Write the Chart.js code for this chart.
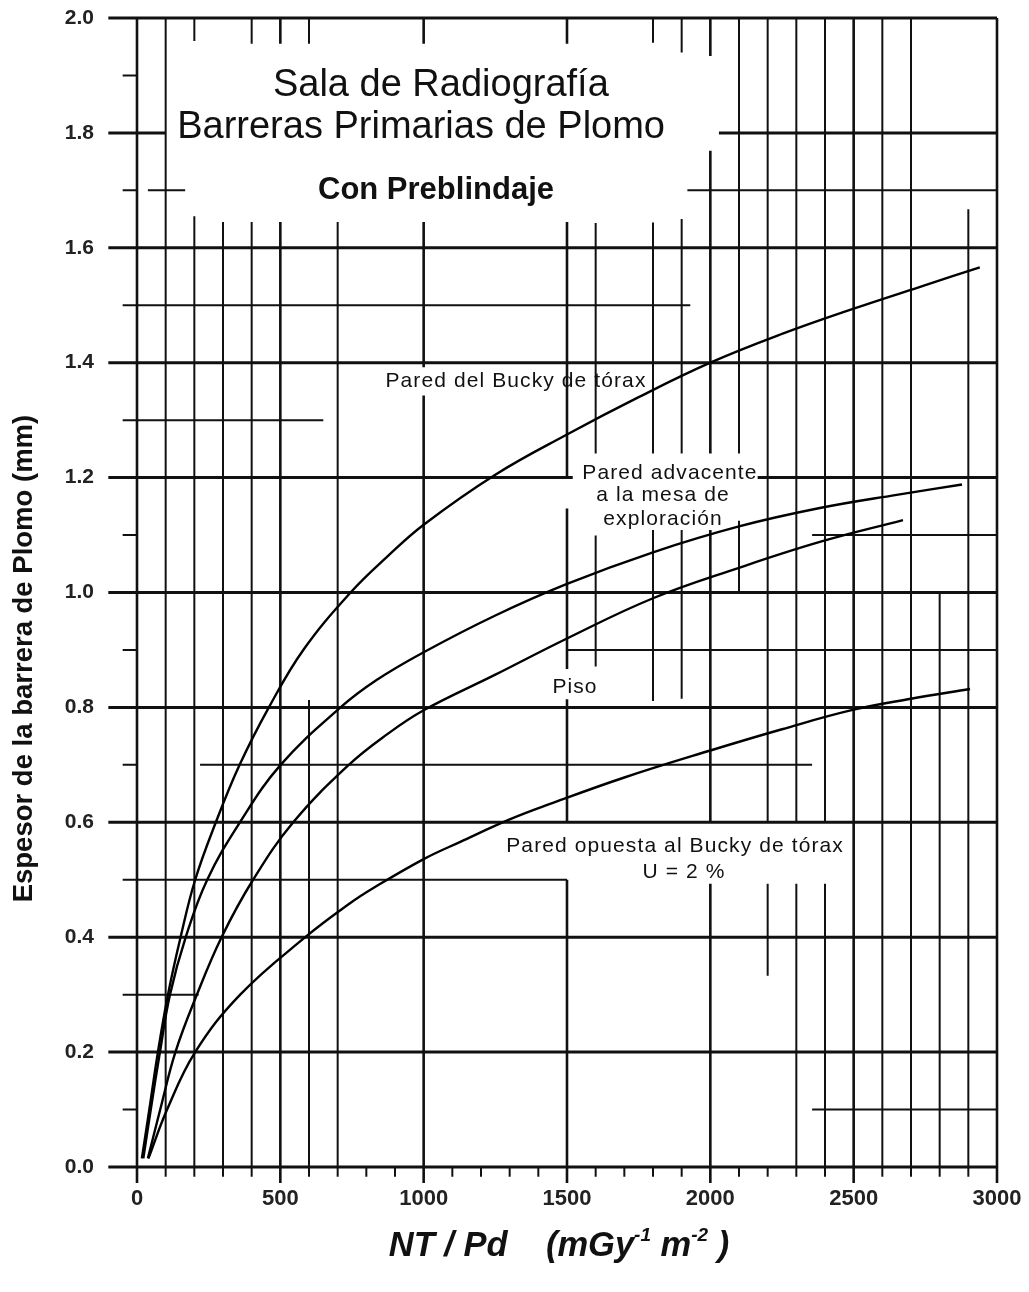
<!DOCTYPE html>
<html>
<head>
<meta charset="utf-8">
<script src="https://cdn.jsdelivr.net/npm/chart.js@4.4.1/dist/chart.umd.min.js"></script>
<style>
  html, body { margin: 0; padding: 0; background: #fff; }
  #marco { width: 1029px; height: 1292px; position: relative; }
</style>
</head>
<body>
<div id="marco"><canvas id="graficoPlomo"></canvas></div>
<script>
//? Datos de las curvas (NT/Pd en mGy^-1 m^-2, espesor en mm).

const buckyX = [17, 43, 73, 108, 152, 203, 275, 358, 460, 580, 745, 872, 1000, 1250, 1500, 1750, 2000, 2250, 2500, 2750, 2940];
const buckyY = [0.015, 0.1, 0.2, 0.3, 0.4, 0.5, 0.6, 0.7, 0.8, 0.9, 1.0, 1.062, 1.118, 1.205, 1.275, 1.34, 1.4, 1.45, 1.494, 1.535, 1.566];

const adyacenteX = [22, 48, 80, 115, 170, 245, 359, 501, 710, 837, 1000, 1250, 1500, 1800, 2100, 2382, 2650, 2878];
const adyacenteY = [0.015, 0.1, 0.2, 0.3, 0.4, 0.5, 0.6, 0.7, 0.8, 0.848, 0.896, 0.96, 1.015, 1.07, 1.115, 1.147, 1.17, 1.188];

const pisoX = [38, 81, 134, 209, 295, 405, 545, 739, 872, 1000, 1250, 1500, 1800, 2100, 2382, 2672];
const pisoY = [0.015, 0.1, 0.2, 0.3, 0.4, 0.5, 0.6, 0.7, 0.753, 0.795, 0.857, 0.92, 0.99, 1.043, 1.088, 1.126];

const opuestaX = [40, 105, 203, 360, 587, 743, 826, 1000, 1128, 1300, 1441, 1700, 2000, 2250, 2500, 2700, 2906];
const opuestaY = [0.015, 0.1, 0.2, 0.3, 0.4, 0.459, 0.486, 0.536, 0.566, 0.605, 0.632, 0.678, 0.725, 0.762, 0.796, 0.815, 0.832];

//? Ejes.

const ticksX = [0, 500, 1000, 1500, 2000, 2500, 3000];
const ticksY = [0, 0.2, 0.4, 0.6, 0.8, 1.0, 1.2, 1.4, 1.6, 1.8, 2.0];

//? Cuadrícula del papel: tramos horizontales [y, x0, x1] y verticales [x, [[y0, y1], ...]].

const horizontalesGruesas = [
  [2.0, -100, 3000], [1.8, -100, 100], [1.8, 2030, 3000], [1.6, -100, 3000],
  [1.4, -100, 3000], [1.2, -100, 1520], [1.2, 2165, 3000], [1.0, -100, 3000],
  [0.8, -100, 3000], [0.6, -100, 3000], [0.4, -100, 3000], [0.2, -100, 3000],
  [0.0, -100, 3000],
];

const horizontalesFinas = [
  [1.9, -50, 0], [1.7, -50, 0], [1.7, 38, 168], [1.7, 1920, 3000],
  [1.5, -50, 1930], [1.3, -50, 650], [1.1, -50, 0], [1.1, 2355, 3000],
  [0.9, -50, 0], [0.9, 1500, 3000], [0.7, -50, 0], [0.7, 220, 2355],
  [0.5, -50, 1500], [0.3, -50, 215], [0.1, -50, 0], [0.1, 2355, 3000],
];

const verticalesGruesas = [
  [0, [[-0.028, 2.0]]],
  [500, [[-0.028, 1.645], [1.955, 2.0]]],
  [1000, [[-0.028, 1.343], [1.392, 1.645], [1.955, 2.0]]],
  [1500, [[-0.028, 0.5], [0.6, 0.814], [0.867, 1.146], [1.2, 1.645], [1.955, 2.0]]],
  [2000, [[-0.028, 0.493], [0.6, 1.109], [1.242, 1.769], [1.934, 2.0]]],
  [2500, [[-0.028, 2.0]]],
  [3000, [[-0.028, 2.0]]],
];

const verticalesFinas = [
  [100, [[-0.017, 2.0]]],
  [200, [[-0.017, 1.655], [1.96, 2.0]]],
  [300, [[-0.017, 1.645]]],
  [400, [[-0.017, 1.645], [1.955, 2.0]]],
  [600, [[-0.017, 0.813], [1.955, 2.0]]],
  [700, [[-0.017, 1.645]]],
  [800, [[-0.017, 0]]],
  [900, [[-0.017, 0]]],
  [1100, [[-0.017, 0]]],
  [1200, [[-0.017, 0]]],
  [1300, [[-0.017, 0]]],
  [1400, [[-0.017, 0]]],
  [1600, [[-0.017, 0], [0.871, 1.099], [1.242, 1.643]]],
  [1700, [[-0.017, 0]]],
  [1800, [[-0.017, 0], [0.811, 1.109], [1.242, 1.644], [1.957, 2.0]]],
  [1900, [[-0.017, 0], [0.815, 1.109], [1.242, 1.65], [1.94, 2.0]]],
  [2100, [[-0.017, 0], [1.0, 1.125], [1.242, 2.0]]],
  [2200, [[-0.017, 0], [0.333, 0.493], [0.6, 2.0]]],
  [2300, [[-0.017, 0.493], [0.6, 2.0]]],
  [2400, [[-0.017, 0.493], [0.6, 2.0]]],
  [2600, [[-0.017, 2.0]]],
  [2700, [[-0.017, 2.0]]],
  [2800, [[-0.017, 1.0]]],
  [2900, [[-0.017, 1.667]]],
];

//? Textos dentro del gráfico (posición en unidades de los ejes).

const titulos = [
  { texto: "Sala de Radiografía", x: 1060, y: 1.882 },
  { texto: "Barreras Primarias de Plomo", x: 991, y: 1.809 },
];
const subtitulo = { texto: "Con Preblindaje", x: 1043, y: 1.70 };

const etiquetas = [
  { texto: "Pared del Bucky de tórax", x: 1322, y: 1.368 },
  { texto: "Pared advacente", x: 1859, y: 1.208 },
  { texto: "a la mesa de", x: 1835, y: 1.170 },
  { texto: "exploración", x: 1835, y: 1.128 },
  { texto: "Piso", x: 1528, y: 0.836 },
  { texto: "Pared opuesta al Bucky de tórax", x: 1877, y: 0.559 },
  { texto: "U = 2 %", x: 1908, y: 0.514 },
];

const tituloEjeY = "Espesor de la barrera de Plomo (mm)";

//? -------------------------------------------------

const FUENTE = "'Liberation Sans', Arial, sans-serif";
const NEGRO = "#111";

const puntos = (xs, ys) => xs.map((x, i) => ({ x, y: ys[i] }));

const tramosH = (lista) =>
  lista.flatMap(([y, x0, x1]) => [{ x: x0, y }, { x: x1, y }, { x: x1, y: null }]);

const tramosV = (lista) =>
  lista.flatMap(([x, tramos]) =>
    tramos.flatMap(([y0, y1]) => [{ x, y: y0 }, { x, y: y1 }, { x, y: null }])
  );

const curva = (label, data) => ({
  label,
  data,
  borderColor: "#000",
  borderWidth: 2.4,
  pointRadius: 0,
  tension: 0.4,
  fill: false,
});

const rejilla = (label, data, ancho) => ({
  label,
  data,
  borderColor: NEGRO,
  borderWidth: ancho,
  borderCapStyle: "butt",
  pointRadius: 0,
  tension: 0,
  spanGaps: false,
  clip: false,
  fill: false,
});

//? Plugin para los textos del gráfico.

const textosPlugin = {
  id: "textosPlomo",
  afterDatasetsDraw(chart) {
    const { ctx, scales, chartArea } = chart;
    const sx = scales.x;
    const sy = scales.y;
    ctx.save();
    ctx.fillStyle = "#111";
    ctx.textAlign = "center";
    ctx.textBaseline = "middle";

    ctx.font = "38px " + FUENTE;
    titulos.forEach((t) => ctx.fillText(t.texto, sx.getPixelForValue(t.x), sy.getPixelForValue(t.y)));

    ctx.font = "bold 31px " + FUENTE;
    ctx.fillText(subtitulo.texto, sx.getPixelForValue(subtitulo.x), sy.getPixelForValue(subtitulo.y));

    ctx.font = "21px " + FUENTE;
    ctx.letterSpacing = "1.1px";
    etiquetas.forEach((t) => ctx.fillText(t.texto, sx.getPixelForValue(t.x), sy.getPixelForValue(t.y)));
    ctx.letterSpacing = "0px";

    // Título del eje Y (vertical).
    ctx.save();
    ctx.translate(24, sy.getPixelForValue(0.885));
    ctx.rotate(-Math.PI / 2);
    ctx.font = "bold 27.5px " + FUENTE;
    ctx.fillText(tituloEjeY, 0, 0);
    ctx.restore();

    // Título del eje X con exponentes.
    const partes = [
      { t: "NT / Pd", sup: false },
      { t: "    (mGy", sup: false },
      { t: "-1", sup: true },
      { t: " m", sup: false },
      { t: "-2", sup: true },
      { t: " )", sup: false },
    ];
    const fNormal = "italic bold 34.5px " + FUENTE;
    const fSup = "italic bold 19px " + FUENTE;
    let total = 0;
    partes.forEach((p) => {
      ctx.font = p.sup ? fSup : fNormal;
      p.w = ctx.measureText(p.t).width;
      total += p.w;
    });
    let xPos = (chartArea.left + chartArea.right) / 2 - 8 - total / 2;
    const base = chartArea.bottom + 89;
    ctx.textAlign = "left";
    ctx.textBaseline = "alphabetic";
    partes.forEach((p) => {
      ctx.font = p.sup ? fSup : fNormal;
      ctx.fillText(p.t, xPos, p.sup ? base - 15 : base);
      xPos += p.w;
    });

    ctx.restore();
  },
};

//? Construcción del gráfico.

const ctxPlomo = document.getElementById("graficoPlomo").getContext("2d");

new Chart(ctxPlomo, {
  type: "line",
  data: {
    datasets: [
      curva("Pared del Bucky de tórax", puntos(buckyX, buckyY)),
      curva("Pared advacente a la mesa de exploración", puntos(adyacenteX, adyacenteY)),
      curva("Piso", puntos(pisoX, pisoY)),
      curva("Pared opuesta al Bucky de tórax", puntos(opuestaX, opuestaY)),
      rejilla("hGruesas", tramosH(horizontalesGruesas), 3),
      rejilla("hFinas", tramosH(horizontalesFinas), 2),
      rejilla("vGruesas", tramosV(verticalesGruesas), 2.6),
      rejilla("vFinas", tramosV(verticalesFinas), 2),
    ],
  },
  options: {
    responsive: true,
    maintainAspectRatio: false,
    animation: false,
    events: [],
    layout: { padding: { left: 0, top: 18, right: 32, bottom: 0 } },
    plugins: {
      legend: { display: false },
      tooltip: { enabled: false },
      title: { display: false },
    },
    scales: {
      x: {
        type: "linear",
        min: 0,
        max: 3000,
        afterFit: (scale) => {
          scale.height = 125;
          scale.paddingLeft = 0;
          scale.paddingRight = 0;
        },
        afterBuildTicks: (scale) => { scale.ticks = ticksX.map((v) => ({ value: v })); },
        grid: { display: false, drawTicks: false },
        border: { display: false },
        ticks: {
          padding: 19,
          color: "#222",
          font: { family: FUENTE, size: 22, weight: "bold" },
          callback: (v) => String(v),
        },
      },
      y: {
        type: "linear",
        min: 0,
        max: 2.0,
        afterFit: (scale) => {
          scale.width = 137;
          scale.paddingTop = 0;
          scale.paddingBottom = 0;
        },
        afterBuildTicks: (scale) => { scale.ticks = ticksY.map((v) => ({ value: v })); },
        grid: { display: false, drawTicks: false },
        border: { display: false },
        ticks: {
          padding: 43,
          color: "#222",
          font: { family: FUENTE, size: 21, weight: "bold" },
          callback: (v) => Number(v).toFixed(1),
        },
      },
    },
  },
  plugins: [textosPlugin],
});
</script>
</body>
</html>
